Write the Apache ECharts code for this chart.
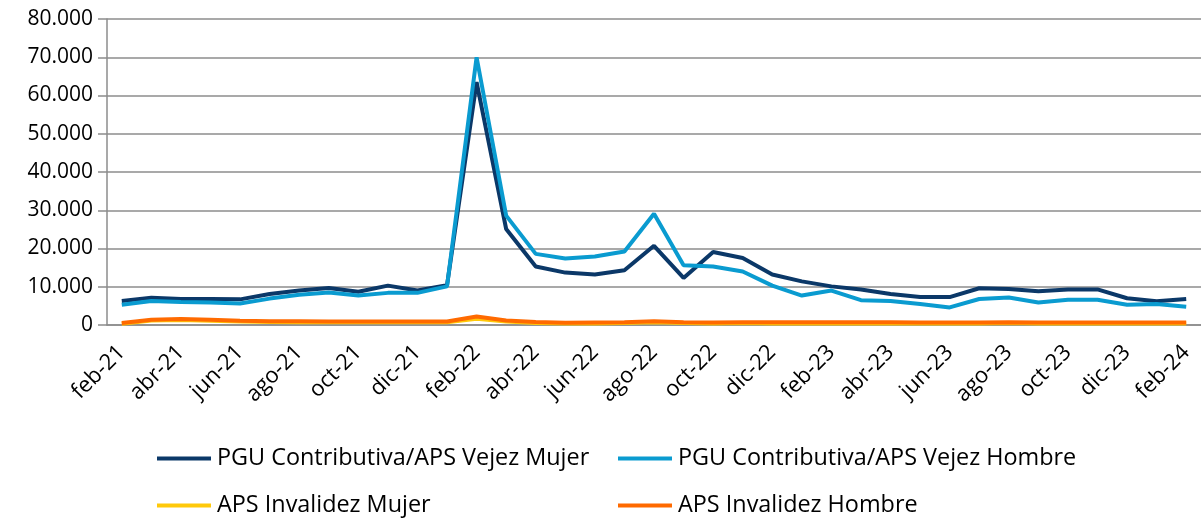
<!DOCTYPE html>
<html>
<head>
<meta charset="utf-8">
<script src="https://cdn.jsdelivr.net/npm/echarts@6/dist/echarts.min.js"></script>
<style>
html,body{margin:0;padding:0;background:#fff;}
#chart{width:1201px;height:520px;}
</style>
</head>
<body>
<div id="chart"></div>
<script>
const categories = ['feb-21','mar-21','abr-21','may-21','jun-21','jul-21','ago-21','sep-21','oct-21','nov-21','dic-21','ene-22',
  'feb-22','mar-22','abr-22','may-22','jun-22','jul-22','ago-22','sep-22','oct-22','nov-22','dic-22','ene-23',
  'feb-23','mar-23','abr-23','may-23','jun-23','jul-23','ago-23','sep-23','oct-23','nov-23','dic-23','ene-24','feb-24'];

const vejezMujer = [6300,7100,6800,6800,6700,8100,9000,9700,8700,10300,9000,10400,
  63500,25100,15300,13700,13200,14300,20700,12300,19100,17500,13200,11400,
  10100,9300,8100,7300,7300,9600,9400,8800,9300,9300,7000,6200,6800];

const vejezHombre = [5300,6300,6000,5900,5600,6900,7900,8500,7700,8400,8400,10100,
  70000,28600,18600,17400,17900,19200,29100,15600,15300,14000,10300,7700,
  9000,6500,6300,5500,4600,6800,7200,5900,6600,6600,5300,5500,4800];

const invalidezMujer = [300,1200,1300,1100,900,800,700,700,700,700,700,700,
  1600,900,500,400,400,500,700,500,400,500,400,400,
  400,400,400,400,400,400,500,400,400,400,400,400,400];

const invalidezHombre = [500,1400,1600,1400,1100,1000,1000,900,900,900,900,900,
  2200,1200,800,600,650,700,1000,700,650,700,700,700,
  700,700,700,650,650,650,700,650,650,650,650,650,650];

const seriesNames = ['PGU Contributiva/APS Vejez Mujer','PGU Contributiva/APS Vejez Hombre','APS Invalidez Mujer','APS Invalidez Hombre'];
const seriesColors = ['#0b3868','#0a9bd0','#ffc90a','#ff6a00'];
const seriesData = [vejezMujer, vejezHombre, invalidezMujer, invalidezHombre];

const FONT = '"Open Sans", Lato, sans-serif';

const chart = echarts.init(document.getElementById('chart'), null, {renderer:'canvas'});

const legendPos = [
  {left:157, top:447},
  {left:618, top:447},
  {left:157, top:494},
  {left:618, top:494}
];

const option = {
  animation:false,
  backgroundColor:'#ffffff',
  grid:{left:107, right:0, top:19, bottom:195, containLabel:false},
  legend: seriesNames.map((n,i)=>({
    data:[n],
    left:legendPos[i].left, top:legendPos[i].top,
    icon:'rect', itemWidth:54, itemHeight:4, itemGap:6,
    padding:0,
    textStyle:{fontFamily:FONT, fontSize:23.4, color:'#000', padding:[0,0,0,1]}
  })),
  xAxis:{
    type:'category',
    data:categories,
    boundaryGap:true,
    axisLine:{show:true, lineStyle:{color:'#8c8c8c', width:1.5}},
    axisTick:{show:false},
    axisLabel:{interval:1, rotate:45, margin:24, fontFamily:FONT, fontSize:22, color:'#000'},
    splitLine:{show:false}
  },
  yAxis:{
    type:'value',
    min:0, max:80000, interval:10000,
    axisLine:{show:true, lineStyle:{color:'#8c8c8c', width:1.5}},
    axisTick:{show:true, length:9, lineStyle:{color:'#8c8c8c', width:1.5}},
    axisLabel:{margin:14, fontFamily:FONT, fontSize:21, color:'#000',
      formatter:v=> v===0 ? '0' : (v/1000).toFixed(0)+'.000'},
    splitLine:{show:true, lineStyle:{color:'#8c8c8c', width:1.5}}
  },
  series: seriesData.map((d,i)=>({
    name:seriesNames[i],
    type:'line',
    data:d,
    symbol:'none',
    smooth:false,
    lineStyle:{color:seriesColors[i], width:4},
    itemStyle:{color:seriesColors[i]},
    z:2+i
  }))
};
chart.setOption(option);
</script>
</body>
</html>
